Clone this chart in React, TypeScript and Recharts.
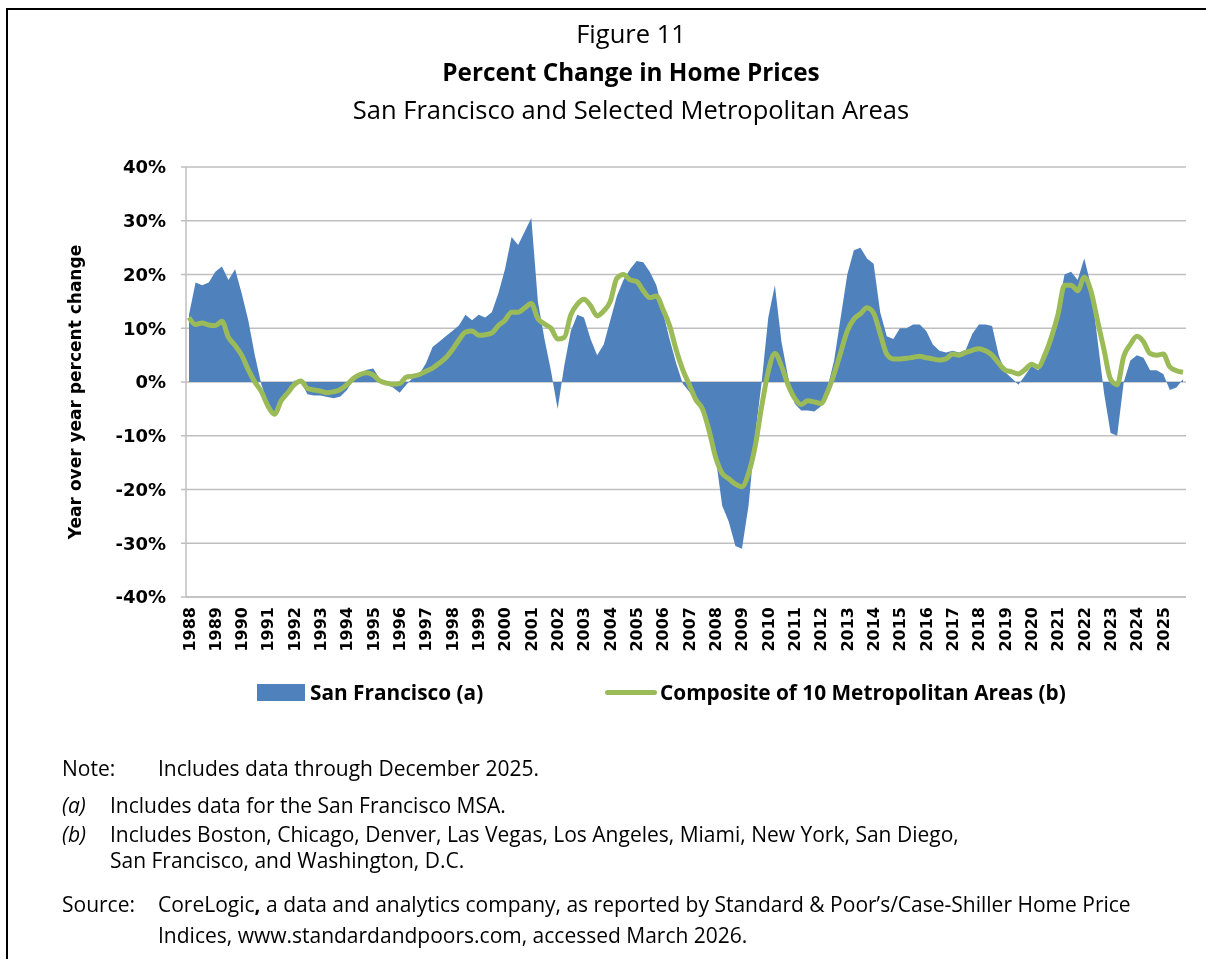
import { ComposedChart, Area, Line, XAxis, YAxis, CartesianGrid } from 'recharts';

// quarterly observations, Q1..Q4 per year
const years = [
  1988, 1989, 1990, 1991, 1992, 1993, 1994, 1995, 1996, 1997, 1998, 1999, 2000,
  2001, 2002, 2003, 2004, 2005, 2006, 2007, 2008, 2009, 2010, 2011, 2012, 2013,
  2014, 2015, 2016, 2017, 2018, 2019, 2020, 2021, 2022, 2023, 2024, 2025,
];

const sanFrancisco = [
  12.5, 18.5, 18, 18.5, // 1988
  20.5, 21.5, 19, 21,
  16.5, 11.5, 5, -0.5, // 1990
  -4, -6, -3.5, -2,
  0.3, 0, -2.3, -2.5,
  -2.5, -2.8, -3, -2.7,
  -1.5, 0.5, 1.5, 2.3,
  2.5, 0.5, -0.5, -1, // 1995
  -2, -0.5, 0.8, 1.5,
  3.5, 6.5, 7.5, 8.5,
  9.5, 10.5, 12.5, 11.5,
  12.5, 12, 13, 16.5,
  21, 27, 25.5, 28, // 2000
  30.5, 15, 8, 2,
  -5, 3, 9.5, 12.5,
  12, 8, 5, 7,
  11.5, 16, 19, 21,
  22.5, 22.3, 20.5, 18, // 2005
  13, 8, 3.5, -0.3,
  -1.8, -3.5, -5.5, -9,
  -14, -23, -26, -30.5,
  -31, -23, -10, 0,
  12, 18, 7.5, 1, // 2010
  -4, -5.3, -5.3, -5.5,
  -4.5, -1, 4, 12,
  20, 24.5, 25, 23,
  22, 13, 8.5, 8,
  10, 10, 10.7, 10.7, // 2015
  9.5, 7, 5.8, 5.5,
  5.8, 5.5, 6, 9,
  10.7, 10.7, 10.4, 5,
  1.8, 0.7, -0.5, 1.2,
  3, 2.2, 4.5, 8, // 2020
  13.5, 20, 20.5, 19,
  23, 18, 8, -2,
  -9.5, -10, 0, 4,
  5, 4.5, 2.2, 2.2,
  1.5, -1.5, -1, 0.5, // 2025
];

const composite = [
  12, 10.7, 11, 10.6, // 1988
  10.5, 11.3, 8.3, 6.8,
  5, 2.3, 0, -1.8, // 1990
  -4.5, -6, -3.5, -2,
  -0.5, 0.2, -1.2, -1.5,
  -1.7, -2, -1.8, -1.4,
  -0.5, 0.7, 1.4, 1.7,
  1.3, 0.2, -0.2, -0.4, // 1995
  -0.3, 0.9, 1.1, 1.4,
  2, 2.6, 3.5, 4.5,
  6, 7.8, 9.3, 9.5,
  8.7, 8.8, 9.1, 10.5,
  11.5, 13, 13, 13.8, // 2000
  14.6, 11.8, 10.8, 10,
  8, 8.3, 12.5, 14.5,
  15.4, 14.2, 12.3, 13.2,
  15, 19.3, 20, 19,
  18.7, 17, 15.7, 16, // 2005
  13.5, 10.5, 6, 2.3,
  -0.5, -3.3, -5, -9,
  -14, -17, -18, -19,
  -19.5, -17, -12, -4.5,
  2, 5.3, 3, -0.5, // 2010
  -3, -4.2, -3.5, -3.7,
  -4, -1.8, 1.5, 5.5,
  9.5, 11.7, 12.7, 13.8,
  12.8, 9, 5.2, 4.3,
  4.3, 4.4, 4.6, 4.8, // 2015
  4.5, 4.3, 4.1, 4.3,
  5.2, 5, 5.5, 5.9,
  6.2, 5.8, 5, 3.5,
  2.2, 1.9, 1.5, 2.3,
  3.3, 2.8, 5, 8.3, // 2020
  12.5, 18, 18, 17,
  19.5, 17, 11.5, 6,
  0.5, -0.5, 4.8, 7,
  8.5, 7.5, 5.3, 5,
  5.2, 2.8, 2.1, 1.8, // 2025
];

const yTicks = [-40, -30, -20, -10, 0, 10, 20, 30, 40];

const periods = years.flatMap((y) => [1, 2, 3, 4].map((q) => `${y}-Q${q}`));
const chartData = periods.map((p, i) => ({ period: p, sf: sanFrancisco[i], comp: composite[i] }));
const yearTicks = years.map((y) => `${y}-Q1`);

const BLUE = '#4f81bd';
const GREEN = '#9bbb59';
const GRID = '#bfbfbf';
const bodyFont = '"Open Sans", Lato, sans-serif';
const axisFont = '"DejaVu Sans", Verdana, sans-serif';

function YearTick({ x, y, payload }: any) {
  return (
    <text
      x={x}
      y={y + 8}
      transform={`rotate(-90, ${x}, ${y + 8})`}
      textAnchor="end"
      dominantBaseline="central"
      fontFamily={axisFont}
      fontWeight="bold"
      fontSize={16}
      fill="#000"
    >
      {String(payload.value).slice(0, 4)}
    </text>
  );
}

// page coordinates -> wrapper coordinates (body has an 8px margin)
const abs = (left: number, top: number, extra: React.CSSProperties = {}): React.CSSProperties => ({
  position: 'absolute',
  left: left - 8,
  top: top - 8,
  whiteSpace: 'nowrap',
  ...extra,
});

export default function App() {
  const noteStyle: React.CSSProperties = { fontFamily: bodyFont, fontSize: 21, color: '#000', lineHeight: '24px' };
  const titleStyle: React.CSSProperties = { width: 1262, textAlign: 'center', fontSize: 25.5, lineHeight: '30px' };
  const legendText: React.CSSProperties = { fontSize: 20.8, fontWeight: 'bold', lineHeight: '28px' };
  return (
    <div style={{ position: 'relative', width: 1190, height: 943, fontFamily: bodyFont }}>
      {/* page frame, sits just outside the root box */}
      <div
        style={{
          position: 'fixed',
          left: 6,
          top: 8,
          width: 1200,
          height: 951,
          boxSizing: 'border-box',
          borderTop: '2px solid #000',
          borderLeft: '2px solid #000',
          pointerEvents: 'none',
        }}
      />

      <div style={abs(0, 18, titleStyle)}>Figure 11</div>
      <div style={abs(0, 57, { ...titleStyle, fontSize: 24.3, fontWeight: 'bold' })}>Percent Change in Home Prices</div>
      <div style={abs(0, 94, titleStyle)}>San Francisco and Selected Metropolitan Areas</div>

      <div style={{ position: 'absolute', left: 0, top: 0 }}>
        <ComposedChart width={1190} height={680} data={chartData} margin={{ top: 159, right: 12, bottom: 21, left: 0 }}>
          <CartesianGrid vertical={false} stroke={GRID} strokeWidth={1.5} />
          <XAxis
            dataKey="period"
            ticks={yearTicks}
            interval={0}
            tick={<YearTick />}
            tickLine={false}
            tickSize={0}
            height={70}
            axisLine={{ stroke: GRID, strokeWidth: 1.5 }}
            padding={{ left: 3, right: 3 }}
          />
          <YAxis
            domain={[-40, 40]}
            ticks={yTicks}
            interval={0}
            width={178}
            tickFormatter={(v: number) => `${v}%`}
            tick={{ fontFamily: axisFont, fontWeight: 'bold', fontSize: 18, fill: '#000' }}
            tickSize={5}
            tickMargin={15}
            tickLine={{ stroke: GRID, strokeWidth: 1.5 }}
            axisLine={{ stroke: GRID, strokeWidth: 1.5 }}
          />
          <YAxis yAxisId="frame" orientation="right" width={0} tick={false} tickLine={false} axisLine={{ stroke: GRID, strokeWidth: 1.5 }} />
          <Area dataKey="sf" type="linear" fill={BLUE} fillOpacity={1} stroke="none" isAnimationActive={false} />
          <Line dataKey="comp" type="monotone" stroke={GREEN} strokeWidth={5} dot={false} isAnimationActive={false} />
        </ComposedChart>
      </div>

      {/* y axis title */}
      <svg style={abs(55, 230, { width: 40, height: 330 })} width={40} height={330}>
        <text
          x={20}
          y={162}
          transform="rotate(-90, 20, 162)"
          textAnchor="middle"
          dominantBaseline="central"
          fontFamily={axisFont}
          fontWeight="bold"
          fontSize={17}
          fill="#000"
        >
          Year over year percent change
        </text>
      </svg>

      {/* legend */}
      <div style={abs(257, 684, { width: 48, height: 17, background: BLUE })} />
      <div style={abs(310, 678, legendText)}>San Francisco (a)</div>
      <div style={abs(605, 690, { width: 52, height: 5, borderRadius: 3, background: GREEN })} />
      <div style={abs(660, 678, legendText)}>Composite of 10 Metropolitan Areas (b)</div>

      {/* notes */}
      <div style={abs(62, 756, noteStyle)}>Note:</div>
      <div style={abs(158, 756, noteStyle)}>Includes data through December 2025.</div>
      <div style={abs(62, 793, { ...noteStyle, fontStyle: 'italic' })}>(a)</div>
      <div style={abs(110, 793, noteStyle)}>Includes data for the San Francisco MSA.</div>
      <div style={abs(62, 822, { ...noteStyle, fontStyle: 'italic' })}>(b)</div>
      <div style={abs(110, 822, noteStyle)}>
        Includes Boston, Chicago, Denver, Las Vegas, Los Angeles, Miami, New York, San Diego,
      </div>
      <div style={abs(110, 848, noteStyle)}>San Francisco, and Washington, D.C.</div>
      <div style={abs(62, 892, noteStyle)}>Source:</div>
      <div style={abs(158, 892, noteStyle)}>
        CoreLogic<b>,</b> a data and analytics company, as reported by Standard &amp; Poor’s/Case-Shiller Home Price
      </div>
      <div style={abs(158, 923, noteStyle)}>Indices, www.standardandpoors.com, accessed March 2026.</div>
    </div>
  );
}
